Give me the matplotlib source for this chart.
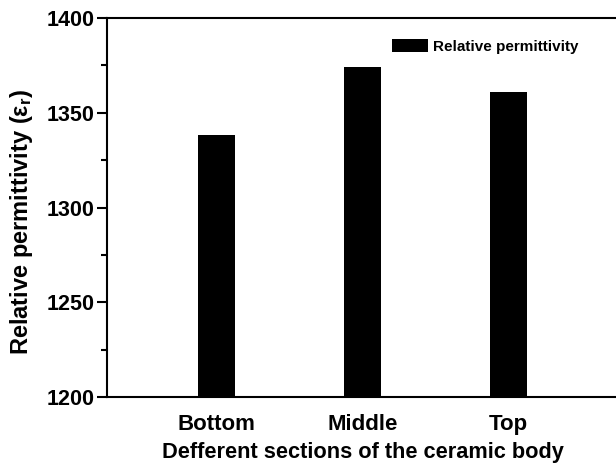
import numpy as np
import matplotlib
matplotlib.use('Agg')
import matplotlib.pyplot as plt
from matplotlib.ticker import MultipleLocator

plt.rcParams['font.family'] = ['Liberation Sans', 'DejaVu Sans']
plt.rcParams['font.weight'] = 'bold'
plt.rcParams['mathtext.fontset'] = 'custom'
plt.rcParams['mathtext.rm'] = 'Liberation Sans:bold'
plt.rcParams['mathtext.it'] = 'Liberation Sans:bold'

# data
sections = ['Bottom', 'Middle', 'Top']
permittivity = [1338, 1374, 1361]

fig = plt.figure(figsize=(6.16, 4.65), dpi=100)
ax = fig.add_axes([107/616, 1 - 397/465, 511/616, 379/465])

x = np.arange(1, len(sections) + 1)
ax.bar(x, permittivity, width=0.25, color='black', label='Relative permittivity')

ax.set_xlim(0.25, 3.75)
ax.set_ylim(1200, 1400)
ax.set_xticks(x)
ax.set_xticklabels(sections, fontsize=16, fontweight='bold')
ax.yaxis.set_major_locator(MultipleLocator(50))
ax.yaxis.set_minor_locator(MultipleLocator(25))
ax.tick_params(axis='y', which='major', direction='out', length=7, width=1.5, labelsize=15.5, pad=2)
ax.tick_params(axis='y', which='minor', direction='out', length=4, width=1.5)
ax.tick_params(axis='x', length=0, pad=12)
for lab in ax.get_yticklabels():
    lab.set_fontweight('bold')

for s in ['left', 'bottom', 'top']:
    ax.spines[s].set_linewidth(1.5)
ax.spines['right'].set_visible(False)

ax.set_xlabel('Defferent sections of the ceramic body', fontsize=15.7, fontweight='bold', labelpad=5)
ax.set_ylabel(r'Relative permittivity (ε$_\mathrm{r}$)', fontsize=17, fontweight='bold')
ax.yaxis.set_label_coords((35 - 107) / 511, (397 - 222) / 379)

ax.legend(loc='upper left', bbox_to_anchor=(392/616, 1 - 39/465), bbox_transform=fig.transFigure,
          frameon=False, borderpad=0, borderaxespad=0, handlelength=2.35, handleheight=0.9,
          handletextpad=0.35, prop={'size': 11, 'weight': 'bold'})

fig.savefig('out.png', dpi=100)
